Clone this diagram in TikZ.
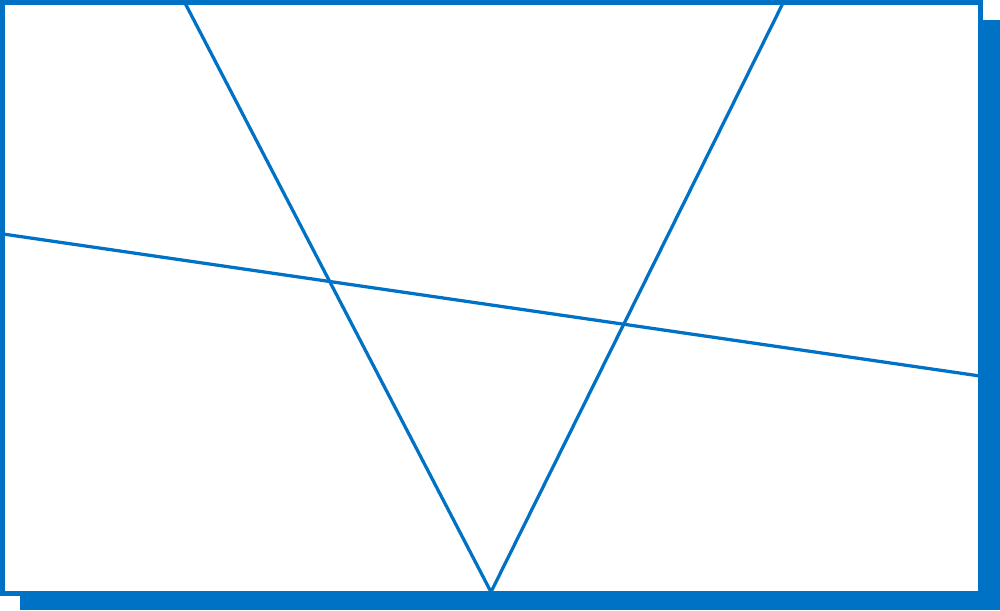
\documentclass[tikz,border=0pt]{standalone}
\usetikzlibrary{positioning}
\definecolor{frameblue}{RGB}{0,114,198}
\begin{document}
\begin{tikzpicture}[
  x=0.02cm, y=-0.02cm,
  shadowbox/.style={fill=frameblue, draw=none},
  framebox/.style={draw=frameblue, line width=0.1cm, fill=white},
  cut/.style={draw=frameblue, line width=0.065cm}
]
  \useasboundingbox (0,0) rectangle (1000,610);
  %% --- Shadow and frame ---
  \path[shadowbox] (20,20) rectangle (1000,610);
  \path[framebox] (2.5,2.5) rectangle (980.5,593.5);
  %% --- End points of the cuts ---
  \coordinate (tl) at (185,3);
  \coordinate (tr) at (783,3);
  \coordinate (apex) at (491,592);
  \coordinate (ml) at (3,234);
  \coordinate (mr) at (980,376);
  %% --- Cuts ---
  \draw[cut] (tl) -- (apex) -- (tr);
  \draw[cut] (ml) -- (mr);
  %% --- Frame on top ---
  \draw[framebox, fill=none] (2.5,2.5) rectangle (980.5,593.5);
\end{tikzpicture}
\end{document}
